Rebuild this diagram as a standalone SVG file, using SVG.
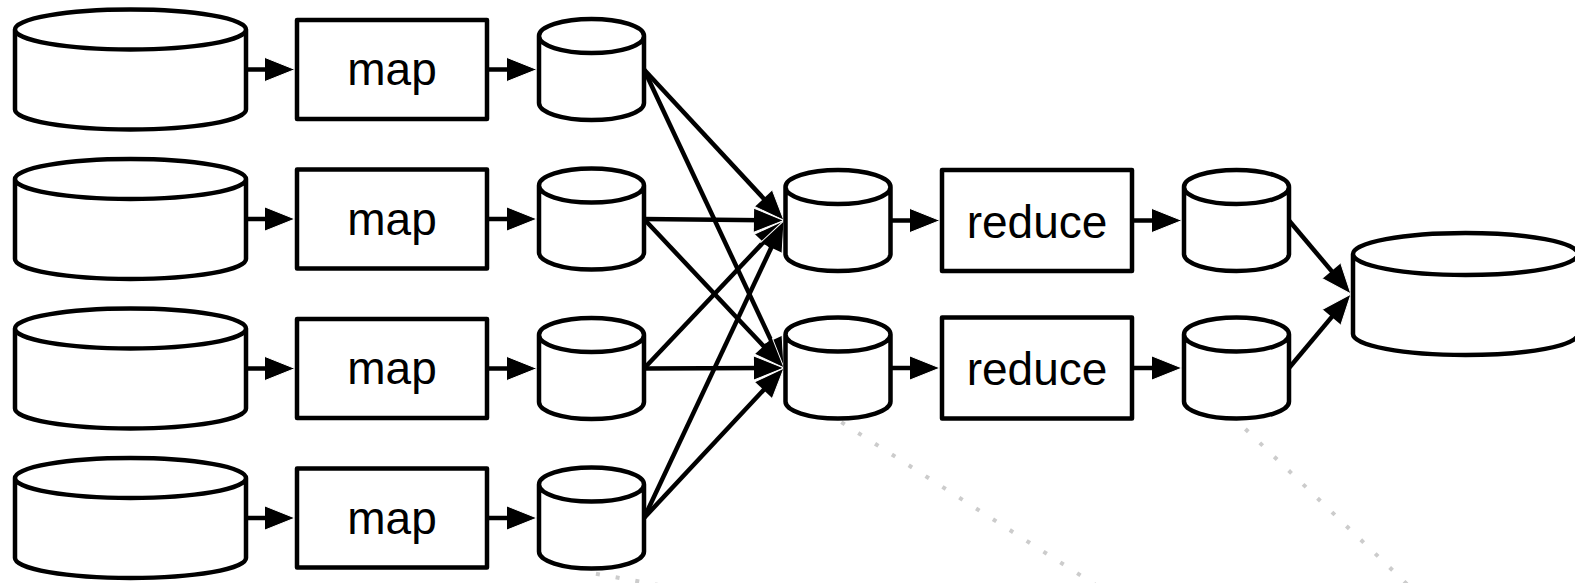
<svg xmlns="http://www.w3.org/2000/svg" xmlns:xlink="http://www.w3.org/1999/xlink" width="1575" height="583" viewBox="0 0 1575 583">
  <style>
    .shape { fill: #ffffff; stroke: #000000; stroke-width: 4.5; stroke-linejoin: round; }
    .edge { fill: none; stroke: #000000; stroke-width: 4.5; marker-end: url(#head); }
    .trail { fill: none; stroke: #cccccc; stroke-width: 4; stroke-dasharray: 4 16; }
    .label { font-family: "Liberation Sans", Arial, sans-serif; font-size: 46px; fill: #000000; text-anchor: middle; }
  </style>
  <defs>
    <!-- filled arrowhead; tip sits 8px past the end of the line -->
    <marker id="head" markerUnits="userSpaceOnUse" markerWidth="32" markerHeight="26" refX="22" refY="12" orient="auto" overflow="visible">
      <path d="M0,0 L30,12 L0,24 Z" fill="#000000"/>
      <path d="M0,0 L30,12 L0,24" fill="none" stroke="#ffffff" stroke-width="1"/>
    </marker>
    <!-- wide storage cylinder, centred on the origin -->
    <path id="cylBig" d="M-115.5,-40 A115.5,20 0 0 1 115.5,-40 V40 A115.5,20 0 0 1 -115.5,40 Z M-115.5,-40 A115.5,20 0 0 0 115.5,-40"/>
    <!-- small intermediate cylinder -->
    <path id="cylSmall" d="M-52.5,-33.5 A52.5,17 0 0 1 52.5,-33.5 V33.5 A52.5,17 0 0 1 -52.5,33.5 Z M-52.5,-33.5 A52.5,17 0 0 0 52.5,-33.5"/>
    <!-- final output cylinder -->
    <path id="cylOut" d="M-112.5,-40 A112.5,21 0 0 1 112.5,-40 V40 A112.5,21 0 0 1 -112.5,40 Z M-112.5,-40 A112.5,21 0 0 0 112.5,-40"/>
  </defs>

  <!-- dotted trails leaving the bottom of some cylinders -->
  <g id="trails">
    <path class="trail" style="stroke-dashoffset:-4" d="M592,573 L700,592.5"/>
    <path class="trail" style="stroke-dashoffset:-4" d="M838,420 L1119,600"/>
    <path class="trail" style="stroke-dashoffset:-13" d="M1236,420 L1423.5,600"/>
  </g>

  <g id="connectors">
    <!-- inputs to map -->
    <path class="edge" d="M246,69.5 H287"/>
    <path class="edge" d="M246,219 H287"/>
    <path class="edge" d="M246,368.5 H287"/>
    <path class="edge" d="M246,518 H287"/>
    <!-- map to intermediate -->
    <path class="edge" d="M487,69.5 H529"/>
    <path class="edge" d="M487,219 H529"/>
    <path class="edge" d="M487,368.5 H529"/>
    <path class="edge" d="M487,518 H529"/>
    <!-- shuffle -->
    <path class="edge" d="M644,69.5 L778.6,214.6"/>
    <path class="edge" d="M644,69.5 L780.6,360.7"/>
    <path class="edge" d="M644,219 L776,220.4"/>
    <path class="edge" d="M644,219 L778.6,362.1"/>
    <path class="edge" d="M644,368.5 L778.5,226.3"/>
    <path class="edge" d="M644,368.5 L776,368"/>
    <path class="edge" d="M644,518 L780.6,227.8"/>
    <path class="edge" d="M644,518 L778.6,373.9"/>
    <!-- reduce side -->
    <path class="edge" d="M890,220.5 H932"/>
    <path class="edge" d="M890,368 H932"/>
    <path class="edge" d="M1132,220.5 H1174"/>
    <path class="edge" d="M1132,368 H1174"/>
    <path class="edge" d="M1289,220.5 L1345.8,287.9"/>
    <path class="edge" d="M1289,368 L1345.9,300.1"/>
  </g>

  <g id="input1"><use xlink:href="#cylBig" class="shape" x="130.5" y="69.5"/></g>
  <g id="input2"><use xlink:href="#cylBig" class="shape" x="130.5" y="219"/></g>
  <g id="input3"><use xlink:href="#cylBig" class="shape" x="130.5" y="368.5"/></g>
  <g id="input4"><use xlink:href="#cylBig" class="shape" x="130.5" y="518"/></g>

  <g id="map1"><rect class="shape" x="297" y="20" width="190" height="99"/><text class="label" x="392" y="85">map</text></g>
  <g id="map2"><rect class="shape" x="297" y="169.5" width="190" height="99"/><text class="label" x="392" y="234.5">map</text></g>
  <g id="map3"><rect class="shape" x="297" y="319" width="190" height="99"/><text class="label" x="392" y="384">map</text></g>
  <g id="map4"><rect class="shape" x="297" y="468.5" width="190" height="99"/><text class="label" x="392" y="533.5">map</text></g>

  <g id="mapout1"><use xlink:href="#cylSmall" class="shape" x="591.5" y="69.5"/></g>
  <g id="mapout2"><use xlink:href="#cylSmall" class="shape" x="591.5" y="219"/></g>
  <g id="mapout3"><use xlink:href="#cylSmall" class="shape" x="591.5" y="368.5"/></g>
  <g id="mapout4"><use xlink:href="#cylSmall" class="shape" x="591.5" y="518"/></g>

  <g id="shuffle1"><use xlink:href="#cylSmall" class="shape" x="838" y="220.5"/></g>
  <g id="shuffle2"><use xlink:href="#cylSmall" class="shape" x="838" y="368"/></g>

  <g id="reduce1"><rect class="shape" x="942" y="170" width="190" height="101"/><text class="label" x="1037" y="237.5">reduce</text></g>
  <g id="reduce2"><rect class="shape" x="942" y="317.5" width="190" height="101"/><text class="label" x="1037" y="385">reduce</text></g>

  <g id="reduceout1"><use xlink:href="#cylSmall" class="shape" x="1236.5" y="220.5"/></g>
  <g id="reduceout2"><use xlink:href="#cylSmall" class="shape" x="1236.5" y="368"/></g>

  <g id="output"><use xlink:href="#cylOut" class="shape" x="1465.5" y="294"/></g>
</svg>
